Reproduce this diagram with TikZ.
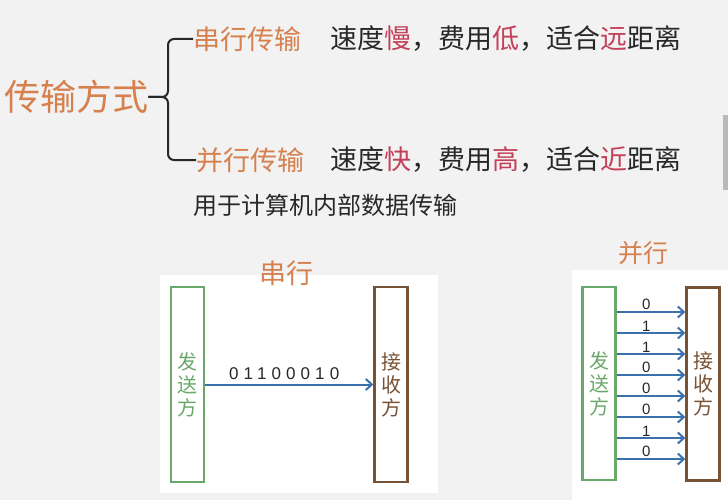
\documentclass[tikz,border=0pt]{standalone}
\usepackage{fontspec}
\setmainfont{Liberation Sans}
\newfontfamily\cjk{Noto Sans CJK SC}
\usetikzlibrary{arrows.meta}
\definecolor{orng}{RGB}{214,128,78}
\definecolor{hot}{RGB}{196,64,88}
\definecolor{ink}{RGB}{40,40,40}
\definecolor{sendg}{RGB}{106,168,106}
\definecolor{recvb}{RGB}{120,82,52}
\definecolor{wireblue}{RGB}{58,112,172}
\newcommand{\hl}[1]{\textcolor{hot}{#1}}

\begin{document}
\begin{tikzpicture}[x=1pt,y=-1pt,font=\cjk\fontsize{27}{30}\selectfont,
  head/.style={anchor=west,inner sep=0pt,text=orng},
  desc/.style={anchor=west,inner sep=0pt,text=ink},
  party/.style={draw,line width=2.4pt,minimum width=33pt,inner sep=0pt,align=center,
    font=\cjk\fontsize{20}{23}\selectfont},
  bits/.style={inner sep=0pt,text=ink,font=\fontsize{17}{17}\selectfont\addfontfeature{LetterSpace=30}},
  bit/.style={inner sep=0pt,text=ink,font=\fontsize{15}{15}\selectfont},
  flow/.style={-{Straight Barb[length=6pt,width=11pt]},wireblue,line width=2pt}]
  \useasboundingbox (0,0) rectangle (728,500);
  \fill[black!5] (0,0) rectangle (728,500);
  \fill[white] (160,275) rectangle (438,493);
  \fill[white] (572,270) rectangle (728,500);
  \fill[gray!55] (723,115) rectangle (728,190);
  % classification
  \node[head,font=\cjk\fontsize{36}{36}\selectfont] (way) at (4,97) {传输方式};
  \node[head] (ser) at (193,39) {串行传输};
  \node[desc] (serd) at (330,39) {速度\hl{慢}，费用\hl{低}，适合\hl{远}距离};
  \node[head] (par) at (196,160) {并行传输};
  \node[desc] (pard) at (330,160) {速度\hl{快}，费用\hl{高}，适合\hl{近}距离};
  \node[desc,font=\cjk\fontsize{24}{24}\selectfont] (use) at (193,205) {用于计算机内部数据传输};
  \draw[ink,line width=2pt,rounded corners=6pt] (ser.west) -- ++(-25,0) |- (way.east);
  \draw[ink,line width=2pt,rounded corners=6pt] (par.west) -- ++(-28,0) |- (way.east);
  % serial
  \node[head,anchor=center] (sertitle) at (286,273) {串行};
  \node[party,sendg,minimum height=195pt] (ss) at (187.5,384.5) {发\\送\\方};
  \node[party,recvb,minimum height=195pt] (sr) at (391,384.5) {接\\收\\方};
  \draw[flow] (ss.east) -- (sr.west) node[bits,pos=0.47,above=4pt] {01100010};
  % parallel
  \node[head,anchor=center,font=\cjk\fontsize{25}{25}\selectfont] (partitle) at (643,253) {并行};
  \node[party,sendg,minimum height=193pt] (ps) at (599,383.5) {发\\送\\方};
  \node[party,recvb,minimum height=193pt] (pr) at (703,384) {接\\收\\方};
  \foreach \b [count=\i from 0, evaluate=\i as \yy using 312+21*\i] in {0,1,1,0,0,0,1,0} {
    \draw[flow] (ps.east |- 0,\yy) -- (pr.west |- 0,\yy) node[bit,pos=0.43,above=1pt] {\b};
  }
\end{tikzpicture}
\end{document}
